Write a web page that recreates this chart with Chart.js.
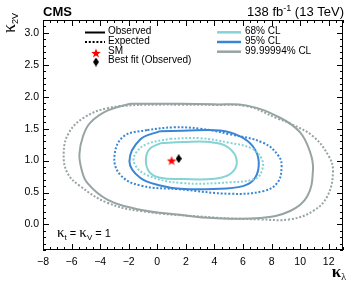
<!DOCTYPE html>
<html>
<head>
<meta charset="utf-8">
<script src="https://cdn.jsdelivr.net/npm/chart.js@4.4.0/dist/chart.umd.min.js"></script>
<style>
    html, body { margin: 0; padding: 0; background: #fff; }
    #wrap { width: 357px; height: 286px; }
</style>
</head>
<body>
<div id="wrap"><canvas id="chart" width="357" height="286"></canvas></div>
<script>
// Axis ranges and tick labels
const xRange = [-8, 13];
const yRange = [-0.4, 3.2];
const xTicks = [-8, -6, -4, -2, 0, 2, 4, 6, 8, 10, 12];
const yTicks = [0, 0.5, 1, 1.5, 2, 2.5, 3];

// Contours, [kappa_lambda, kappa_2V]
const obs99 = [[-1.9, 1.89], [1.6, 1.89], [4.0, 1.88], [6.3, 1.86], [8.6, 1.67], [10.0, 1.44], [10.7, 1.13], [10.9, 0.86],
    [10.5, 0.44], [9.3, 0.21], [7.2, 0.10], [3.9, 0.10], [1.6, 0.15], [-1.2, 0.23], [-3.5, 0.39], [-4.9, 0.65],
    [-5.3, 0.86], [-5.45, 1.1], [-5.2, 1.38], [-4.7, 1.59], [-3.5, 1.78]];
const exp99 = [[-1.2, 1.875], [1.6, 1.875], [4.0, 1.87], [6.3, 1.85], [8.4, 1.66], [9.3, 1.58], [10.9, 1.38], [12.0, 1.07],
    [12.3, 0.83], [11.9, 0.44], [10.9, 0.21], [9.3, 0.08], [7.2, 0.08], [3.9, 0.11], [-1.2, 0.21], [-3.5, 0.34],
    [-5.4, 0.60], [-6.3, 0.81], [-6.55, 1.12], [-6.2, 1.43], [-5.15, 1.67], [-3.5, 1.82]];
const obs95 = [[0.2, 1.46], [1.8, 1.465], [4.4, 1.47], [5.8, 1.38], [6.7, 1.22], [7.1, 0.99], [6.85, 0.73], [6.0, 0.60],
    [3.9, 0.555], [1.6, 0.56], [0.2, 0.61], [-1.2, 0.73], [-1.95, 0.99], [-1.2, 1.33]];
const exp95 = [[-0.7, 1.48], [1.15, 1.52], [3.0, 1.50], [5.1, 1.41], [7.4, 1.28], [8.5, 1.07], [8.7, 0.89], [8.4, 0.65],
    [7.4, 0.52], [5.1, 0.48], [1.6, 0.55], [-1.2, 0.61], [-2.6, 0.78], [-3.0, 1.07], [-2.35, 1.38]];
const obs68 = [[0.2, 1.27], [1.8, 1.29], [3.7, 1.29], [5.0, 1.2], [5.57, 0.98], [5.1, 0.79], [4.0, 0.715], [1.8, 0.71],
    [0.2, 0.73], [-0.55, 0.82], [-0.8, 1.0], [-0.55, 1.18]];
const exp68 = [[0.9, 1.34], [3.0, 1.35], [5.0, 1.28], [6.6, 1.19], [7.3, 1.03], [7.35, 0.86], [6.9, 0.72], [5.1, 0.66],
    [1.6, 0.65], [-0.7, 0.77], [-1.6, 0.95], [-1.5, 1.12], [-0.7, 1.26]];

const smPoint = [1.0, 1.0];
const bestFit = [1.5, 1.03];

const colors = { cl68: '#86d3d6', cl95: '#3b86d4', cl99: '#98a3a3' };
const dots = [2, 1.8];
const FONT = '"Liberation Sans", Arial, sans-serif';
const GREEK = '"Liberation Serif", "DejaVu Serif", serif';

function makeStar(size, color) {
    const c = document.createElement('canvas');
    c.width = c.height = size;
    const g = c.getContext('2d');
    const r = size / 2, ri = r * 0.42;
    g.fillStyle = color;
    g.beginPath();
    for (let i = 0; i < 10; i++) {
        const a = -Math.PI / 2 + i * Math.PI / 5;
        const rr = i % 2 === 0 ? r : ri;
        g.lineTo(r + rr * Math.cos(a), r + rr * Math.sin(a) + 0.5);
    }
    g.closePath();
    g.fill();
    return c;
}

function makeDiamond(w, h, color) {
    const c = document.createElement('canvas');
    c.width = w; c.height = h;
    const g = c.getContext('2d');
    g.fillStyle = color;
    g.beginPath();
    g.moveTo(w / 2, 0); g.lineTo(w, h / 2); g.lineTo(w / 2, h); g.lineTo(0, h / 2);
    g.closePath();
    g.fill();
    return c;
}

const starImg = makeStar(10, '#ff0000');
const diamondImg = makeDiamond(6, 9, '#000000');

function contour(points, color, dashed) {
    const data = points.map(p => ({ x: p[0], y: p[1] }));
    data.push({ x: points[0][0], y: points[0][1] });
    return {
        data: data,
        showLine: true,
        borderColor: color,
        borderWidth: 2,
        borderDash: dashed ? dots : [],
        tension: 0.4,
        pointRadius: 0,
        fill: false
    };
}

// draws a row of text pieces (for sub/superscripts)
function drawRich(ctx, parts, x, y, align) {
    let total = 0;
    parts.forEach(p => { ctx.font = p.font; p.w = ctx.measureText(p.t).width; total += p.w; });
    let cx = align === 'right' ? x - total : x;
    ctx.textAlign = 'left';
    ctx.textBaseline = 'alphabetic';
    parts.forEach(p => {
        ctx.font = p.font;
        ctx.fillText(p.t, cx, y + (p.dy || 0));
        cx += p.w;
    });
}

const frameAndTicks = {
    id: 'frameAndTicks',
    afterDraw(chart) {
        const { ctx, chartArea: a, scales: { x, y } } = chart;
        ctx.save();
        ctx.strokeStyle = '#000';
        ctx.lineWidth = 1;
        ctx.strokeRect(Math.round(a.left) + 0.5, Math.round(a.top) + 0.5,
            Math.round(a.right - a.left) - 1, Math.round(a.bottom - a.top) - 1);
        ctx.beginPath();
        for (let i = 0; i <= 42; i++) {
            const v = xRange[0] + i * 0.5;
            const len = i % 4 === 0 ? 6 : 3;
            const px = Math.round(x.getPixelForValue(v)) + 0.5;
            ctx.moveTo(px, a.bottom); ctx.lineTo(px, a.bottom - len);
            ctx.moveTo(px, a.top); ctx.lineTo(px, a.top + len);
        }
        for (let i = -4; i <= 32; i++) {
            const len = i % 5 === 0 ? 6 : 3;
            const py = Math.round(y.getPixelForValue(i / 10)) + 0.5;
            ctx.moveTo(a.left, py); ctx.lineTo(a.left + len, py);
            ctx.moveTo(a.right, py); ctx.lineTo(a.right - len, py);
        }
        ctx.stroke();
        ctx.restore();
    }
};

const labelsAndLegend = {
    id: 'labelsAndLegend',
    afterDraw(chart) {
        const ctx = chart.ctx;
        ctx.save();
        ctx.fillStyle = '#000';

        // header
        ctx.font = 'bold 13px ' + FONT;
        ctx.textBaseline = 'alphabetic';
        ctx.fillText('CMS', 43, 16);
        drawRich(ctx, [
            { t: '138 fb', font: '13px ' + FONT },
            { t: '-1', font: '9px ' + FONT, dy: -5 },
            { t: ' (13 TeV)', font: '13px ' + FONT }
        ], 344, 16, 'right');

        // axis titles
        drawRich(ctx, [
            { t: 'κ', font: 'bold 17px ' + GREEK },
            { t: 'λ', font: '10px ' + GREEK, dy: 3 }
        ], 346, 277, 'right');
        ctx.save();
        ctx.translate(15, 33);
        ctx.rotate(-Math.PI / 2);
        drawRich(ctx, [
            { t: 'κ', font: '18px ' + GREEK },
            { t: '2V', font: '9px ' + FONT, dy: 3 }
        ], 0, 0, 'left');
        ctx.restore();

        drawRich(ctx, [
            { t: 'κ', font: '15px ' + GREEK },
            { t: 't', font: '8px ' + FONT, dy: 3 },
            { t: ' = ', font: '11px ' + FONT },
            { t: 'κ', font: '15px ' + GREEK },
            { t: 'V', font: '8px ' + FONT, dy: 3 },
            { t: ' = 1', font: '11px ' + FONT }
        ], 57, 237, 'left');

        // legend, left column
        ctx.font = '10px ' + FONT;
        ctx.textBaseline = 'middle';
        ctx.lineWidth = 2;
        ctx.strokeStyle = '#000';
        ctx.beginPath(); ctx.moveTo(85, 32.5); ctx.lineTo(105, 32.5); ctx.stroke();
        ctx.setLineDash(dots);
        ctx.beginPath(); ctx.moveTo(85, 42); ctx.lineTo(105, 42); ctx.stroke();
        ctx.setLineDash([]);
        ctx.drawImage(starImg, 91, 48);
        ctx.drawImage(diamondImg, 93, 57.5);
        ctx.fillText('Observed', 108, 31.5);
        ctx.fillText('Expected', 108, 41.3);
        ctx.fillText('SM', 108, 51);
        ctx.fillText('Best fit (Observed)', 108, 60.7);

        // legend, right column
        ctx.lineWidth = 2.5;
        [['68% CL', colors.cl68, 32.3], ['95% CL', colors.cl95, 42], ['99.99994% CL', colors.cl99, 51.7]].forEach(e => {
            ctx.strokeStyle = e[1];
            ctx.beginPath(); ctx.moveTo(217, e[2]); ctx.lineTo(241, e[2]); ctx.stroke();
            ctx.fillText(e[0], 245, e[2] - 0.7);
        });
        ctx.restore();
    }
};

Chart.defaults.font.family = FONT;
Chart.defaults.color = '#000';

new Chart(document.getElementById('chart'), {
    type: 'scatter',
    data: {
        datasets: [
            { data: [{ x: bestFit[0], y: bestFit[1] }], pointStyle: diamondImg, pointRadius: 5 },
            { data: [{ x: smPoint[0], y: smPoint[1] }], pointStyle: starImg, pointRadius: 5 },
            contour(obs68, colors.cl68, false),
            contour(exp68, colors.cl68, true),
            contour(obs95, colors.cl95, false),
            contour(exp95, colors.cl95, true),
            contour(obs99, colors.cl99, false),
            contour(exp99, colors.cl99, true)
        ]
    },
    options: {
        responsive: false,
        animation: false,
        layout: { padding: { top: 20, right: 14, left: 0, bottom: 0 } },
        plugins: { legend: { display: false }, tooltip: { enabled: false } },
        scales: {
            x: {
                type: 'linear',
                min: xRange[0],
                max: xRange[1],
                afterBuildTicks: scale => { scale.ticks = xTicks.map(v => ({ value: v })); },
                afterFit: scale => { scale.height = 36; },
                grid: { display: false, drawTicks: false },
                border: { display: false },
                ticks: {
                    padding: 6,
                    maxRotation: 0,
                    autoSkip: false,
                    font: { size: 10.5 },
                    callback: v => v < 0 ? '\u2212' + Math.abs(v) : String(v)
                }
            },
            y: {
                type: 'linear',
                min: yRange[0],
                max: yRange[1],
                afterBuildTicks: scale => { scale.ticks = yTicks.map(v => ({ value: v })); },
                afterFit: scale => { scale.width = 43; },
                grid: { display: false, drawTicks: false },
                border: { display: false },
                ticks: {
                    padding: 4,
                    autoSkip: false,
                    font: { size: 10.5 },
                    callback: v => Number(v).toFixed(1)
                }
            }
        }
    },
    plugins: [frameAndTicks, labelsAndLegend]
});
</script>
</body>
</html>
